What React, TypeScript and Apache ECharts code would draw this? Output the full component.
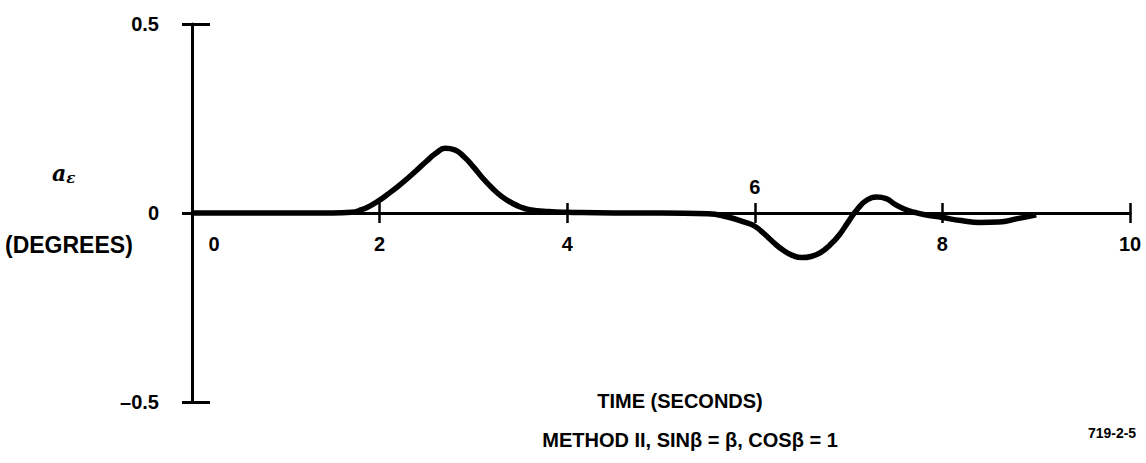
import React, { useEffect, useRef } from "react";
import * as echarts from "echarts";

const times = [0, 1.0, 1.5, 1.7, 1.8, 1.9, 2.0, 2.1, 2.2, 2.3, 2.4, 2.5, 2.6, 2.7, 2.8, 2.9, 3.0, 3.1, 3.2, 3.3, 3.4, 3.5, 3.6, 3.8, 4.0, 4.5, 5.0, 5.5, 5.7, 5.9, 6.0, 6.1, 6.2, 6.3, 6.4, 6.5, 6.6, 6.7, 6.8, 6.9, 7.0, 7.1, 7.2, 7.3, 7.4, 7.5, 7.6, 7.7, 7.8, 8.0, 8.2, 8.4, 8.6, 8.8, 9.0];
const values = [0, 0, 0, 0.002, 0.008, 0.019, 0.034, 0.052, 0.071, 0.092, 0.114, 0.137, 0.158, 0.171, 0.167, 0.149, 0.122, 0.092, 0.066, 0.044, 0.028, 0.016, 0.009, 0.004, 0.002, 0, 0, -0.002, -0.01, -0.025, -0.035, -0.055, -0.078, -0.098, -0.112, -0.118, -0.115, -0.105, -0.085, -0.058, -0.022, 0.012, 0.035, 0.042, 0.038, 0.022, 0.01, 0.002, -0.004, -0.012, -0.02, -0.025, -0.024, -0.015, -0.005];
const yTickLabels: Record<string, string> = { "-0.5": "\u20130.5", "0": "0", "0.5": "0.5" };
const xLabelsBelow = ["0", "2", "4", "8", "10"];
const xLabelsAbove = ["6"];

const FONT = "'Liberation Sans', Arial, sans-serif";
const GRID_TOP = 24;
const GRID_BOTTOM = 61;
const CHART_H = 463;

export default function App() {
  const ref = useRef<HTMLDivElement>(null);
  useEffect(() => {
    if (!ref.current) return;
    const chart = echarts.init(ref.current, undefined, { renderer: "svg" });
    const axisLineStyle = { color: "#000", width: 3 };
    // x axis placed at value 0 of the y range (middle of grid)
    const plotH = CHART_H - GRID_TOP - GRID_BOTTOM;
    const xOffset = -plotH / 2;
    chart.setOption({
      animation: false,
      backgroundColor: "#fff",
      grid: { left: 192, right: 16, top: GRID_TOP, bottom: GRID_BOTTOM, containLabel: false },
      xAxis: [
        {
          type: "value", min: 0, max: 10, interval: 2, position: "bottom", offset: xOffset,
          axisLine: { onZero: false, lineStyle: axisLineStyle },
          axisTick: { show: true, inside: false, length: 10, lineStyle: { color: "#000", width: 2.5 } },
          splitLine: { show: false },
          axisLabel: {
            margin: 21, color: "#000", fontFamily: FONT, fontWeight: "bold", fontSize: 20,
            formatter: (v: number) => {
              const s = String(v);
              if (!xLabelsBelow.includes(s)) return "";
              return s === "0" ? "{z|0}" : s;
            },
            rich: { z: { padding: [0, 0, 0, 44], color: "#000", fontFamily: FONT, fontWeight: "bold", fontSize: 20 } },
          },
        },
        {
          type: "value", min: 0, max: 10, interval: 2, position: "bottom", offset: xOffset,
          axisLine: { show: false, onZero: false },
          axisTick: { show: true, inside: true, length: 10, lineStyle: { color: "#000", width: 2.5 } },
          splitLine: { show: false },
          axisLabel: {
            inside: true, margin: 16, color: "#000", fontFamily: FONT, fontWeight: "bold", fontSize: 20,
            formatter: (v: number) => (xLabelsAbove.includes(String(v)) ? String(v) : ""),
          },
        },
      ],
      yAxis: [
        {
          type: "value", min: -0.5, max: 0.5, interval: 0.5,
          axisLine: { onZero: false, lineStyle: axisLineStyle },
          axisTick: { show: true, inside: false, length: 10, lineStyle: { color: "#000", width: 3 } },
          splitLine: { show: false },
          axisLabel: {
            margin: 33, color: "#000", fontFamily: FONT, fontWeight: "bold", fontSize: 20,
            formatter: (v: number) => yTickLabels[String(v)] ?? "",
          },
        },
        {
          type: "value", min: -0.5, max: 0.5, interval: 0.5, position: "left",
          axisLine: { show: false, onZero: false },
          axisTick: { show: true, inside: true, length: 18, lineStyle: { color: "#000", width: 3 } },
          splitLine: { show: false },
          axisLabel: { show: false },
        },
      ],
      series: [
        {
          type: "line",
          xAxisIndex: 0,
          yAxisIndex: 0,
          smooth: 0.5,
          symbol: "none",
          lineStyle: { color: "#000", width: 5.5 },
          data: times.map((t, i) => [t, values[i]]),
          z: 5,
        },
      ],
      graphic: [
        {
          type: "text", left: 52, top: 162,
          style: {
            text: "{a|a}{e|\u03b5}",
            rich: {
              a: { fontFamily: "'DejaVu Serif', serif", fontStyle: "italic", fontWeight: "bold", fontSize: 22, fill: "#000" },
              e: { fontFamily: "'DejaVu Serif', serif", fontStyle: "italic", fontWeight: "bold", fontSize: 15, fill: "#000", verticalAlign: "bottom", padding: [10, 0, 0, 0] },
            },
          },
        },
        {
          type: "text", left: 5, top: 233,
          style: { text: "(DEGREES)", fontFamily: FONT, fontWeight: "bold", fontSize: 23, fill: "#000" },
        },
        {
          type: "text", x: 680, y: 401,
          style: { text: "TIME (SECONDS)", fontFamily: FONT, fontWeight: "bold", fontSize: 20, fill: "#000", align: "center", verticalAlign: "middle" },
        },
        {
          type: "text", x: 690, y: 440,
          style: { text: "METHOD II, SIN\u03b2 = \u03b2, COS\u03b2 = 1", fontFamily: FONT, fontWeight: "bold", fontSize: 20, fill: "#000", align: "center", verticalAlign: "middle" },
        },
        {
          type: "text", x: 1112, y: 433,
          style: { text: "719-2-5", fontFamily: FONT, fontWeight: "bold", fontSize: 14, fill: "#000", align: "center", verticalAlign: "middle" },
        },
      ],
    });
    return () => chart.dispose();
  }, []);
  return <div ref={ref} style={{ width: 1146, height: 463, position: "absolute", left: 0, top: 0 }} />;
}
